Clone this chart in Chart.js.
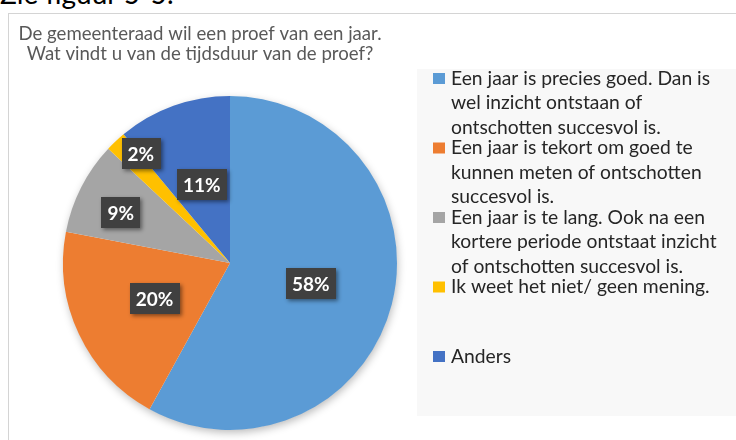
<!DOCTYPE html>
<html>
<head>
<meta charset="utf-8">
<script src="https://cdn.jsdelivr.net/npm/chart.js@4.4.0/dist/chart.umd.min.js"></script>
<style>
  html, body { margin: 0; padding: 0; background: #fff; overflow: hidden; }
  #wrap { position: relative; width: 736px; height: 440px; }
  #above { position: absolute; left: 0; top: -21px; font-family: Lato, sans-serif; font-size: 28px; line-height: 28px; color: #000; white-space: nowrap; }
  #frame { position: absolute; left: 8px; top: 13px; width: 760px; height: 460px; border: 1px solid #d4d4d4; box-sizing: border-box; }
  canvas { position: absolute; left: 0; top: 0; }
</style>
</head>
<body>
<div id="wrap">
  <div id="above">Zie figuur 5-5.</div>
  <div id="frame"></div>
  <canvas id="c" width="736" height="440"></canvas>
</div>
<script>
// ---- data ----
const titleLines = ["De gemeenteraad wil een proef van een jaar.", "Wat vindt u van de tijdsduur van de proef?"];
const categories = [
  ["Een jaar is precies goed. Dan is", "wel inzicht ontstaan of", "ontschotten succesvol is."],
  ["Een jaar is tekort om goed te", "kunnen meten of ontschotten", "succesvol is."],
  ["Een jaar is te lang. Ook na een", "kortere periode ontstaat inzicht", "of ontschotten succesvol is."],
  ["Ik weet het niet/ geen mening."],
  ["Anders"]
];
const values = [58, 20, 9, 2, 11];
const colors = ["#5B9BD5", "#ED7D31", "#A5A5A5", "#FFC000", "#4472C4"];

// label placement (style): radial factor and angular shift in degrees
const labelRadial = [0.5, 0.5, 0.72, 0.845, 0.5];
const labelShift = [0, 0, -2.4, 4, 0];

const FONT = "Lato, 'Open Sans', sans-serif";

const deco = {
  id: 'deco',
  beforeDraw(chart) {
    const ctx = chart.ctx;
    ctx.save();
    // title
    ctx.fillStyle = '#595959';
    ctx.font = '18.6px ' + FONT;
    ctx.textAlign = 'center';
    ctx.textBaseline = 'alphabetic';
    ctx.fillText(titleLines[0], 200, 40);
    ctx.fillText(titleLines[1], 200, 60);
    // legend box
    ctx.fillStyle = '#f8f8f8';
    ctx.fillRect(417, 69, 319, 347);
    // legend items
    ctx.textAlign = 'left';
    ctx.textBaseline = 'middle';
    ctx.font = '19.3px ' + FONT;
    const labels = chart.data.labels;
    labels.forEach((lines, i) => {
      const yc = 78.5 + i * 69.5;
      ctx.fillStyle = colors[i];
      ctx.fillRect(433, yc - 5.5, 12, 11);
      ctx.fillStyle = '#262626';
      lines.forEach((ln, j) => ctx.fillText(ln, 451, yc + j * 24.5));
    });
    ctx.restore();
  },
  beforeDatasetsDraw(chart) {
    const arc = chart.getDatasetMeta(0).data[0];
    if (!arc) return;
    const ctx = chart.ctx;
    ctx.save();
    ctx.shadowColor = 'rgba(0,0,0,0.28)';
    ctx.shadowBlur = 9;
    ctx.shadowOffsetX = 1;
    ctx.shadowOffsetY = 3;
    ctx.fillStyle = '#ffffff';
    ctx.beginPath();
    ctx.arc(arc.x, arc.y, arc.outerRadius - 0.5, 0, Math.PI * 2);
    ctx.fill();
    ctx.restore();
  },
  afterDatasetsDraw(chart) {
    const ctx = chart.ctx;
    const meta = chart.getDatasetMeta(0);
    const total = values.reduce((a, b) => a + b, 0);
    ctx.save();
    ctx.font = 'bold 19px ' + FONT;
    ctx.textAlign = 'center';
    ctx.textBaseline = 'middle';
    meta.data.forEach((arc, i) => {
      const mid = (arc.startAngle + arc.endAngle) / 2 + labelShift[i] * Math.PI / 180;
      const r = arc.outerRadius * labelRadial[i];
      const x = arc.x + Math.cos(mid) * r;
      const y = arc.y + Math.sin(mid) * r;
      const txt = Math.round(values[i] / total * 100) + '%';
      const w = ctx.measureText(txt).width + 12;
      const h = 31;
      ctx.save();
      ctx.shadowColor = 'rgba(0,0,0,0.45)';
      ctx.shadowBlur = 4;
      ctx.shadowOffsetX = 2;
      ctx.shadowOffsetY = 2;
      ctx.fillStyle = '#404040';
      ctx.fillRect(Math.round(x - w / 2), Math.round(y - h / 2), Math.round(w), h);
      ctx.restore();
      ctx.fillStyle = '#ffffff';
      ctx.fillText(txt, x, y + 1);
    });
    ctx.restore();
  }
};

new Chart(document.getElementById('c'), {
  type: 'pie',
  data: {
    labels: categories,
    datasets: [{
      data: values,
      backgroundColor: colors,
      borderWidth: 0
    }]
  },
  options: {
    responsive: false,
    animation: false,
    layout: { padding: { left: 63, right: 339, top: 96, bottom: 10 } },
    plugins: {
      legend: { display: false },
      title: { display: false },
      tooltip: { enabled: false }
    }
  },
  plugins: [deco]
});
</script>
</body>
</html>
